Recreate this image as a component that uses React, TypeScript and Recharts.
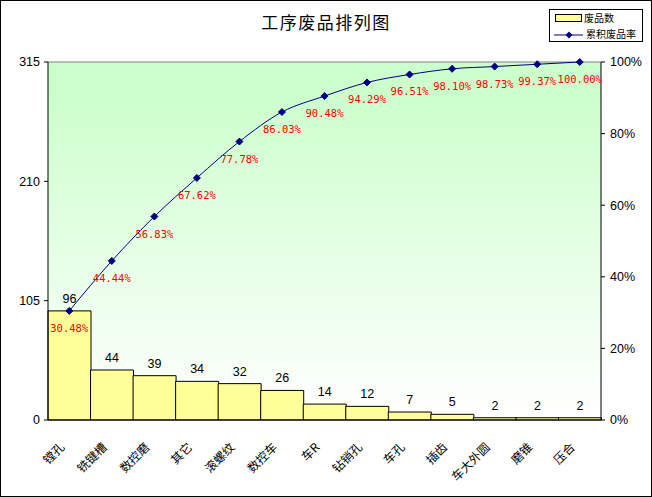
import React from 'react';
import {
  ComposedChart,
  Bar,
  Line,
  XAxis,
  YAxis,
  CartesianGrid,
  LabelList,
  Legend,
  ReferenceLine,
} from 'recharts';

const categories = ['镗孔', '铣键槽', '数控磨', '其它', '滚螺纹', '数控车', '车R', '钻销孔', '车孔', '插齿', '车大外圆', '磨锥', '压合'];
const defects = [96, 44, 39, 34, 32, 26, 14, 12, 7, 5, 2, 2, 2];
const cumulativePct = [30.48, 44.44, 56.83, 67.62, 77.78, 86.03, 90.48, 94.29, 96.51, 98.1, 98.73, 99.37, 100.0];
const leftTicks = [0, 105, 210, 315];
const rightTicks = [0, 20, 40, 60, 80, 100];

const data = categories.map((name, i) => ({ name, count: defects[i], pct: cumulativePct[i] }));

const sans = '"Liberation Sans", Arial, sans-serif';
const cjk = '"Noto Sans CJK SC", sans-serif';
const mono = '"DejaVu Sans Mono", "Liberation Mono", monospace';

const XTick = (props: any) => {
  const { x, y, payload } = props;
  return (
    <g transform={`translate(${x - 4},${y + 28})`}>
      <text transform="rotate(-45)" textAnchor="end" fontSize={12} fontFamily={cjk} fill="#000">
        {payload.value}
      </text>
    </g>
  );
};

const Diamond = (p: any) => {
  const { cx, cy, index } = p;
  const s = 3.5;
  return (
    <path
      key={`d${index}`}
      d={`M${cx},${cy - s}L${cx + s},${cy}L${cx},${cy + s}L${cx - s},${cy}Z`}
      fill="#000080"
      stroke="#000080"
    />
  );
};

const PctLabel = (p: any) => {
  const { x, y, value, index } = p;
  return (
    <text key={`l${index}`} x={x} y={y + 21} textAnchor="middle" fontSize={10.5} fontFamily={mono} fill="#FF0000">
      {Number(value).toFixed(2)}%
    </text>
  );
};

const renderLegend = () => (
  <div
    style={{
      width: 94,
      height: 33,
      border: '1px solid #000',
      boxSizing: 'border-box',
      background: '#fff',
      position: 'relative',
      fontFamily: cjk,
      fontSize: 10,
      lineHeight: '12px',
      color: '#000',
    }}
  >
    <div style={{ position: 'absolute', left: 5, top: 4, width: 25, height: 6, background: '#FFFF99', border: '1px solid #000' }} />
    <div style={{ position: 'absolute', left: 34, top: 2 }}>废品数</div>
    <svg style={{ position: 'absolute', left: 4, top: 20 }} width={30} height={10}>
      <line x1={0} y1={5} x2={29} y2={5} stroke="#000080" strokeWidth={1} />
      <path d="M15,1.5L18.5,5L15,8.5L11.5,5Z" fill="#000080" />
    </svg>
    <div style={{ position: 'absolute', left: 36, top: 18 }}>累积废品率</div>
  </div>
);

export default function App() {
  return (
    <div style={{ position: 'absolute', left: 0, top: 0, width: 652, height: 497, background: '#fff' }}>
      <div
        style={{
          position: 'absolute',
          left: 0,
          top: 12,
          width: 652,
          textAlign: 'center',
          fontFamily: cjk,
          fontSize: 17,
          letterSpacing: 1.5,
          lineHeight: '20px',
          color: '#000',
        }}
      >
        工序废品排列图
      </div>
      <ComposedChart
        width={652}
        height={497}
        data={data}
        margin={{ top: 62, right: 0, left: 0, bottom: 0 }}
        barCategoryGap={0}
        barGap={0}
      >
        <defs>
          <linearGradient id="bgGrad" x1="0" y1="0" x2="0" y2="1">
            <stop offset="0%" stopColor="#CCFFCC" />
            <stop offset="8%" stopColor="#CCFFCC" />
            <stop offset="100%" stopColor="#FFFFFF" />
          </linearGradient>
        </defs>
        <CartesianGrid horizontal={false} vertical={false} fill="url(#bgGrad)" stroke="none" />
        <XAxis
          dataKey="name"
          xAxisId="x"
          height={77}
          tick={<XTick />}
          tickLine={false}
          tickSize={0}
          tickMargin={0}
          interval={0}
          axisLine={{ stroke: '#000' }}
        />
        <YAxis
          yAxisId="left"
          orientation="left"
          width={48}
          domain={[0, 315]}
          ticks={leftTicks}
          interval={0}
          tickSize={4}
          tickMargin={4}
          axisLine={{ stroke: '#000' }}
          tickLine={{ stroke: '#000' }}
          tick={{ fill: '#000', fontSize: 12.5, fontFamily: sans }}
        />
        <YAxis
          yAxisId="right"
          orientation="right"
          width={51}
          domain={[0, 100]}
          ticks={rightTicks}
          interval={0}
          tickSize={4}
          tickMargin={5}
          tickFormatter={(v: number) => `${v}%`}
          axisLine={{ stroke: '#000' }}
          tickLine={{ stroke: '#000' }}
          tick={{ fill: '#000', fontSize: 12.5, fontFamily: sans }}
        />
        <ReferenceLine yAxisId="left" xAxisId="x" y={315} stroke="#808080" strokeWidth={1} />
        <Bar
          dataKey="count"
          xAxisId="x"
          yAxisId="left"
          fill="#FFFF99"
          stroke="#000"
          strokeWidth={1}
          isAnimationActive={false}
        >
          <LabelList dataKey="count" position="top" offset={8} fill="#000" fontSize={12.5} fontFamily={sans} />
        </Bar>
        <Line
          dataKey="pct"
          xAxisId="x"
          yAxisId="right"
          type="monotone"
          stroke="#000080"
          strokeWidth={1}
          dot={Diamond}
          activeDot={false}
          isAnimationActive={false}
        >
          <LabelList dataKey="pct" content={PctLabel} />
        </Line>
        <Legend
          layout="horizontal"
          verticalAlign="middle"
          align="center"
          content={renderLegend}
          wrapperStyle={{ left: 549, top: 9, width: 94, height: 33 }}
        />
      </ComposedChart>
      <div
        style={{
          position: 'absolute',
          left: 0,
          top: 0,
          width: 652,
          height: 497,
          border: '1px solid #000',
          boxSizing: 'border-box',
          pointerEvents: 'none',
        }}
      />
    </div>
  );
}
